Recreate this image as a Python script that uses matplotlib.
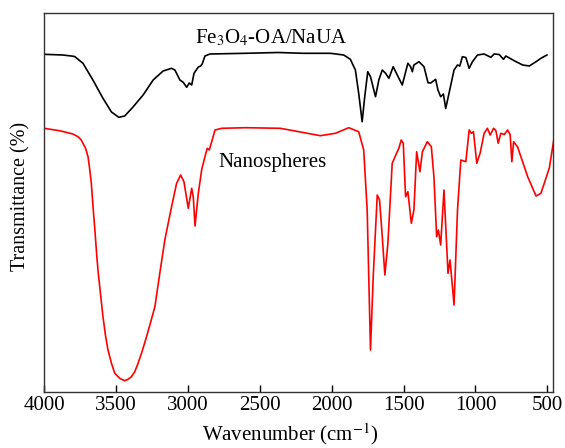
import matplotlib
matplotlib.use("Agg")
import matplotlib.pyplot as plt

plt.rcParams['font.family'] = ['Liberation Serif', 'DejaVu Serif']
plt.rcParams['mathtext.fontset'] = 'stix'

# Fe3O4-OA/NaUA spectrum (wavenumber, relative transmittance)
wn_black = [4000, 3870, 3810, 3787, 3729, 3660, 3590, 3531, 3480, 3439,
            3381, 3311, 3241, 3172, 3113, 3090, 3055, 3032, 3008, 2990,
            2973, 2957, 2927, 2911, 2900, 2881, 2846, 2600, 2372, 2200,
            2009, 1916, 1870, 1835, 1812, 1788, 1770, 1749, 1730, 1695,
            1672, 1648, 1625, 1602, 1572, 1544, 1509, 1470, 1451, 1439,
            1428, 1393, 1358, 1330, 1311, 1277, 1261, 1242, 1223, 1207,
            1184, 1149, 1125, 1109, 1091, 1067, 1044, 1021, 986, 940,
            893, 870, 835, 805, 789, 731, 672, 626, 579, 545,
            503]
t_black = [337.7, 337, 336, 335.5, 328.7, 312, 293.7, 280, 274.7, 276,
           285, 297, 312, 321, 323.7, 322, 312, 309.7, 304.7, 309,
           307, 318.7, 325, 326, 328, 336, 338, 338.7, 339.5, 338.7,
           338.7, 337, 332.7, 322, 298.7, 270.3, 295.3, 320.3, 315.3, 295.3,
           312, 322, 318.7, 313.7, 325.3, 317, 307, 328.7, 325.3, 320.3,
           327, 330.3, 325.3, 309.3, 309, 312.7, 302, 295.3, 298, 283.5,
           298.7, 322, 327, 326, 335.3, 334.5, 323.7, 330.3, 337, 338,
           334.7, 338, 337.5, 332.7, 336, 331.3, 327, 326, 330.3, 333.7,
           337]

# Nanospheres spectrum
wn_red = [4000, 3892, 3799, 3764, 3741, 3711, 3694, 3683, 3671, 3660,
          3648, 3636, 3625, 3590, 3573, 3555, 3531, 3508, 3474, 3439,
          3416, 3392, 3369, 3346, 3322, 3287, 3264, 3229, 3195, 3160,
          3113, 3078, 3050, 3027, 2997, 2973, 2962, 2950, 2927, 2904,
          2881, 2865, 2851, 2834, 2811, 2764, 2600, 2358, 2265, 2079,
          1974, 1881, 1812, 1777, 1753, 1730, 1711, 1683, 1667, 1648,
          1630, 1609, 1579, 1549, 1533, 1516, 1502, 1486, 1470, 1446,
          1428, 1409, 1386, 1369, 1335, 1307, 1289, 1270, 1258, 1242,
          1219, 1191, 1177, 1149, 1125, 1102, 1067, 1044, 1028, 1014,
          991, 968, 940, 917, 898, 874, 858, 842, 824, 800,
          777, 759, 747, 735, 707, 637, 579, 545, 487, 452]
t_red = [263.7, 261.3, 258, 255.3, 252, 243.7, 235.3, 223.7, 208.7, 187,
         165.3, 142, 122, 75.3, 57, 42, 28.7, 18.7, 13.7, 11.3,
         12.7, 15.3, 20.3, 28.7, 38.7, 55.3, 67, 85.3, 118.7, 152,
         185.3, 208.7, 217, 210.3, 183.7, 203.7, 195, 166, 198.7, 222,
         235.3, 243.7, 242, 250.3, 262, 263.7, 264.3, 263.7, 261.3, 256.3,
         258.7, 264.3, 260.3, 242, 182, 42, 115.3, 197, 192, 155.3,
         117, 148.7, 228.7, 238.7, 243.7, 252, 248.7, 195.3, 200.3, 168.7,
         182, 240.3, 220.3, 240.3, 250.3, 245.3, 215.3, 155.3, 162, 147,
         202, 118.7, 132, 87, 182, 232, 230.3, 262, 258.7, 260.3,
         228.7, 238.7, 258.7, 263.7, 257, 263.7, 261.3, 248.7, 258.7, 257.5,
         262, 257.5, 230.3, 250.3, 245, 215.3, 196, 198.7, 223.7, 255.3]

xticks = [4000, 3500, 3000, 2500, 2000, 1500, 1000, 500]

W, H = 565, 448
fig = plt.figure(figsize=(W / 100, H / 100), dpi=100)
ax = fig.add_axes([44 / W, 56 / H, 509 / W, 379 / H])

ax.plot(wn_black, t_black, color='black', lw=1.2)
ax.plot(wn_red, t_red, color='red', lw=1.2)

ax.set_xlim(4000, 461)
ax.set_ylim(0, 379)
ax.set_xticks(xticks)
ax.set_xticklabels([str(v) for v in xticks])
ax.set_yticks([])
ax.tick_params(axis='x', direction='in', length=5, width=1, labelsize=15, pad=3)
for s in ax.spines.values():
    s.set_linewidth(1.0)
    s.set_color('#333333')

ax.text(2950, 349, 'Fe$_3$O$_4$-OA/NaUA', fontsize=15, ha='left', va='baseline')
ax.text(2788, 225, 'Nanospheres', fontsize=15, ha='left', va='baseline')

fig.text(290 / W, 1 - 440 / H, 'Wavenumber (cm$^{-1}$)', fontsize=15,
         ha='center', va='baseline')
fig.text(21 / W, 1 - 196 / H, 'Transmittance (%)', fontsize=14.5,
         ha='center', va='center', rotation=90)

fig.savefig('out.png', dpi=100)
